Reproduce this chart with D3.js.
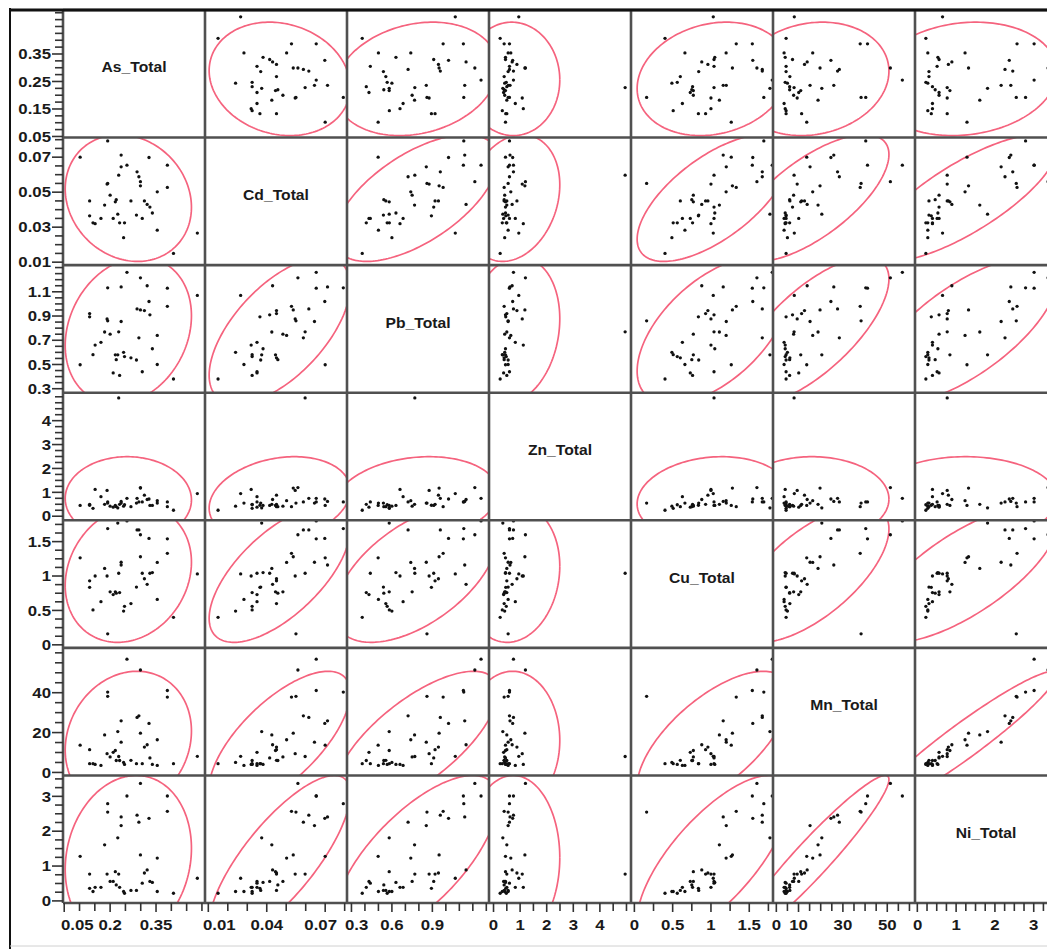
<!DOCTYPE html>
<html>
<head>
<meta charset="utf-8">
<script src="https://cdn.jsdelivr.net/npm/d3@7"></script>
<style>
  html, body { margin: 0; padding: 0; background: #fff; }
  svg { display: block; }
  text { font-family: Arial, "Liberation Sans", Helvetica, sans-serif; font-weight: bold; fill: #1a1a1a; }
</style>
</head>
<body>
<svg id="chart" width="1047" height="949"></svg>
<script>
// Variable names shown on the diagonal
const variables = ["As_Total", "Cd_Total", "Pb_Total", "Zn_Total", "Cu_Total", "Mn_Total", "Ni_Total"];

// Observations (one entry per sample, same order in every array)
const asTotal = [0.102,0.133,0.133,0.144,0.151,0.170,0.182,0.190,0.192,0.192,0.200,0.210,0.217,0.220,0.225,0.228,0.231,0.236,0.236,0.244,0.247,0.255,0.268,0.286,0.288,0.294,0.299,0.299,0.305,0.312,0.321,0.327,0.330,0.338,0.354,0.354,0.387,0.387,0.407,0.485];
const cdTotal = [0.0700,0.0450,0.0365,0.0325,0.0320,0.0350,0.0426,0.0546,0.0793,0.0550,0.0483,0.0350,0.0445,0.0457,0.0374,0.0597,0.0325,0.0712,0.0645,0.0240,0.0325,0.0654,0.0450,0.0369,0.0616,0.0588,0.0560,0.0536,0.0350,0.0450,0.0430,0.0698,0.0415,0.0381,0.0502,0.0283,0.0654,0.0527,0.0150,0.0266];
const pbTotal = [0.498,0.920,0.893,0.581,0.660,0.683,0.768,0.876,1.133,0.860,0.750,0.430,0.580,0.540,0.580,0.770,0.410,1.140,0.855,0.600,0.565,1.261,0.555,0.537,0.959,0.720,1.215,0.950,0.440,0.945,1.150,1.020,0.910,0.630,0.740,0.500,1.130,0.980,0.380,1.070];
const znTotal = [0.45,0.50,0.46,0.33,1.12,0.82,0.50,1.08,0.60,0.55,0.42,0.38,0.45,0.40,0.35,4.95,0.50,0.62,0.55,0.42,0.48,0.75,0.40,0.55,0.75,0.60,1.20,1.18,0.60,0.88,0.70,0.72,0.45,0.45,0.65,0.55,0.60,0.40,0.25,0.95];
const cuTotal = [1.265,0.930,0.836,0.507,1.000,0.627,1.110,1.000,1.690,0.160,0.770,0.730,0.770,0.750,1.770,1.040,0.760,1.160,1.200,0.490,0.560,1.800,0.600,0.840,1.670,1.670,1.600,1.280,1.040,0.960,0.880,1.546,1.040,1.050,1.198,0.660,1.540,1.330,0.400,1.030];
const mnTotal = [13.7,11.4,4.4,4.4,4.0,3.5,18.8,9.4,40.3,38.2,7.8,10.1,11.0,6.0,20.5,8.0,6.0,25.9,15.2,5.0,4.0,56.8,6.1,4.4,27.6,28.4,51.4,19.7,4.4,12.7,13.9,24.6,7.3,4.0,16.4,3.5,41.1,37.8,4.4,8.1];
const niTotal = [1.28,0.77,0.36,0.27,0.39,0.39,1.61,0.77,2.79,2.55,0.56,0.56,0.84,0.46,1.81,0.77,0.39,2.41,2.16,0.27,0.22,3.01,0.30,0.30,2.46,2.26,3.37,1.32,0.51,0.80,0.89,2.37,0.56,0.53,1.23,0.27,3.01,2.57,0.22,0.65];

const series = [asTotal, cdTotal, pbTotal, znTotal, cuTotal, mnTotal, niTotal];

// Axis ranges for each variable
const axisDomains = [[0.046,0.51],[0.0083,0.0812],[0.267,1.32],[-0.17,5.17],[-0.044,1.81],[-1.5,62.5],[-0.06,3.6]];

// Left (row) axes: tick spacing and labelled values
const yTickStep   = [0.025, 0.005, 0.05, 0.25, 0.125, 5, 0.25];
const yTickLabels = [[0.05,0.15,0.25,0.35],[0.01,0.03,0.05,0.07],[0.3,0.5,0.7,0.9,1.1],[0,1,2,3,4],[0,0.5,1,1.5],[0,20,40],[0,1,2,3]];
// Bottom (column) axes
const xTickStep   = [0.05, 0.01, 0.1, 0.5, 0.25, 5, 0.25];
const xTickLabels = [[0.05,0.2,0.35],[0.01,0.04,0.07],[0.3,0.6,0.9],[0,1,2,3,4],[0,0.5,1,1.5],[0,10,30,50],[0,1,2,3]];

// ---- layout ----
const svg = d3.select("#chart");
const W = 1047, H = 949;
const gridLeft = 63, gridTop = 10, cellW = 142, cellH = 893 / 7;
const nVar = variables.length;
const stretch = 1.12; // horizontal stretch of all lettering

const xScales = axisDomains.map((d, j) => d3.scaleLinear().domain(d).range([gridLeft + j * cellW, gridLeft + (j + 1) * cellW]));
const yScales = axisDomains.map((d, i) => d3.scaleLinear().domain(d).range([gridTop + (i + 1) * cellH, gridTop + i * cellH]));

function label(g, x, y, str, anchor, size) {
  return g.append("text")
    .attr("transform", `translate(${x},${y}) scale(${stretch},1)`)
    .attr("text-anchor", anchor)
    .attr("dominant-baseline", "central")
    .style("font-size", size + "px")
    .text(str);
}

function fmt(v) { return String(+v.toFixed(4)); }

function tickValues(domain, step) {
  const start = Math.ceil((domain[0] - 1e-9) / step) * step;
  const out = [];
  for (let k = 0; start + k * step <= domain[1] + 1e-9; k++) out.push(+(start + k * step).toFixed(6));
  return out;
}

const defs = svg.append("defs");
const cells = svg.append("g");

// ---- density ellipse (95%, bivariate normal) ----
const chi = Math.sqrt(5.991);
function ellipsePoints(xs, ys) {
  const n = xs.length;
  const mx = d3.mean(xs), my = d3.mean(ys);
  let sxx = 0, syy = 0, sxy = 0;
  for (let k = 0; k < n; k++) {
    const dx = xs[k] - mx, dy = ys[k] - my;
    sxx += dx * dx; syy += dy * dy; sxy += dx * dy;
  }
  sxx /= n - 1; syy /= n - 1; sxy /= n - 1;
  const l11 = Math.sqrt(sxx), l21 = sxy / l11, l22 = Math.sqrt(Math.max(syy - l21 * l21, 0));
  return d3.range(0, 2 * Math.PI + 0.001, Math.PI / 90).map(t => [
    mx + chi * l11 * Math.cos(t),
    my + chi * (l21 * Math.cos(t) + l22 * Math.sin(t))
  ]);
}

for (let i = 0; i < nVar; i++) {
  for (let j = 0; j < nVar; j++) {
    const x0 = gridLeft + j * cellW, y0 = gridTop + i * cellH;
    const g = cells.append("g");
    if (i === j) {
      label(g, x0 + cellW / 2, y0 + cellH / 2 - 6, variables[i], "middle", 14);
      continue;
    }
    const xs = xScales[j], ys = yScales[i];
    const clipId = `clip-${i}-${j}`;
    defs.append("clipPath").attr("id", clipId)
      .append("rect").attr("x", x0).attr("y", y0).attr("width", cellW).attr("height", cellH);

    const pts = ellipsePoints(series[j], series[i]);
    g.append("path")
      .attr("clip-path", `url(#${clipId})`)
      .attr("d", d3.line().x(p => xs(p[0])).y(p => ys(p[1]))(pts))
      .attr("fill", "none")
      .attr("stroke", "#f5637e")
      .attr("stroke-width", 1.7);

    g.selectAll("circle")
      .data(d3.range(series[i].length))
      .join("circle")
      .attr("cx", k => xs(series[j][k]))
      .attr("cy", k => ys(series[i][k]))
      .attr("r", 1.65)
      .attr("fill", "#111");
  }
}

// ---- cell grid ----
const grid = svg.append("g").attr("stroke", "#505050").attr("stroke-width", 2.6);
for (let k = 0; k <= nVar; k++) {
  grid.append("line")
    .attr("x1", gridLeft + k * cellW).attr("x2", gridLeft + k * cellW)
    .attr("y1", gridTop).attr("y2", gridTop + nVar * cellH);
  grid.append("line")
    .attr("x1", gridLeft).attr("x2", gridLeft + nVar * cellW)
    .attr("y1", gridTop + k * cellH).attr("y2", gridTop + k * cellH);
}

// ---- left axes ----
const yAxisG = svg.append("g");
for (let i = 0; i < nVar; i++) {
  const ys = yScales[i];
  const labelled = yTickLabels[i].map(fmt);
  tickValues(axisDomains[i], yTickStep[i]).forEach(v => {
    const major = labelled.includes(fmt(v));
    yAxisG.append("line")
      .attr("x1", gridLeft - (major ? 11 : 8)).attr("x2", gridLeft)
      .attr("y1", ys(v)).attr("y2", ys(v))
      .attr("stroke", "#333").attr("stroke-width", 1.6);
  });
  yTickLabels[i].forEach(v => {
    label(yAxisG, 51, ys(v), fmt(v), "end", 15);
  });
}

// ---- bottom axes ----
const xAxisG = svg.append("g");
const axisY = gridTop + nVar * cellH;
for (let j = 0; j < nVar; j++) {
  const xs = xScales[j];
  const labelled = xTickLabels[j].map(fmt);
  tickValues(axisDomains[j], xTickStep[j]).forEach(v => {
    const major = labelled.includes(fmt(v));
    xAxisG.append("line")
      .attr("x1", xs(v)).attr("x2", xs(v))
      .attr("y1", axisY).attr("y2", axisY + (major ? 9 : 8))
      .attr("stroke", "#333").attr("stroke-width", 1.6);
  });
  const cellL = gridLeft + j * cellW, cellR = cellL + cellW;
  xTickLabels[j].forEach(v => {
    const t = label(xAxisG, 0, 0, fmt(v), "middle", 15);
    const w = t.node().getComputedTextLength() * stretch;
    let cx = xs(v);
    if (cx - w / 2 < cellL - 2) cx = cellL - 2 + w / 2;
    if (cx + w / 2 > cellR - 10) cx = cellR - 10 - w / 2;
    t.attr("transform", `translate(${cx},${axisY + 22}) scale(${stretch},1)`);
  });
}

// ---- outer frame ----
svg.append("line").attr("x1", 10).attr("x2", W).attr("y1", gridTop).attr("y2", gridTop)
  .attr("stroke", "#111").attr("stroke-width", 3);
svg.append("line").attr("x1", 10).attr("x2", 10).attr("y1", 8).attr("y2", H)
  .attr("stroke", "#111").attr("stroke-width", 2);
svg.append("line").attr("x1", 10).attr("x2", W).attr("y1", 946).attr("y2", 946)
  .attr("stroke", "#d0d0d0").attr("stroke-width", 1);
</script>
</body>
</html>
